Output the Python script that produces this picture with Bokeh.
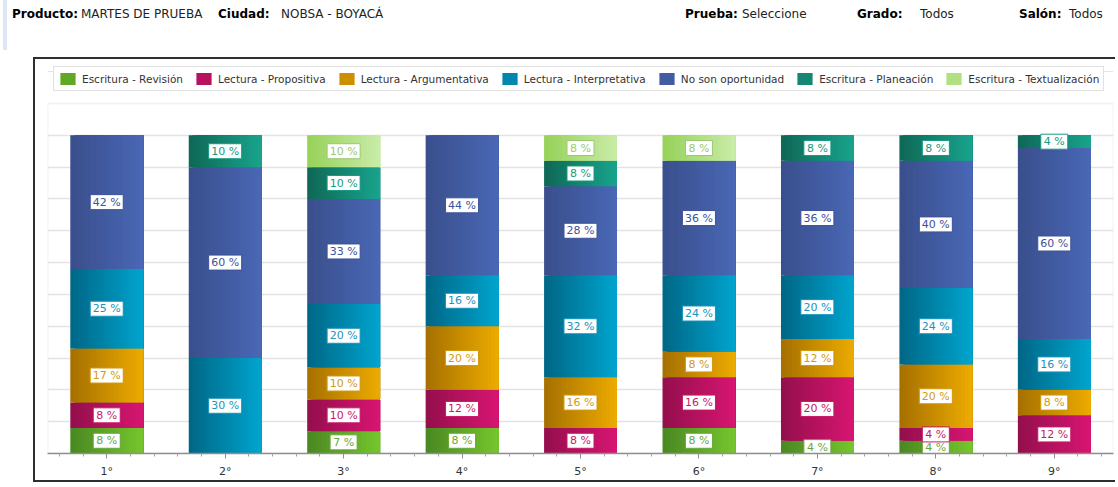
from bokeh.plotting import figure
from bokeh.models import (ColumnDataSource, Range1d, FixedTicker, Legend,
                          LegendItem, Div, Grid, BoxAnnotation)
from bokeh.core.properties import value
from bokeh.transform import dodge
from bokeh.layouts import column
from bokeh.embed import file_html
from bokeh.resources import INLINE

# ---------------- data ----------------
grades = ["1°", "2°", "3°", "4°", "5°", "6°", "7°", "8°", "9°"]
series_names = ["Escritura - Revisión", "Lectura - Propositiva", "Lectura - Argumentativa",
                "Lectura - Interpretativa", "No son oportunidad", "Escritura - Planeación",
                "Escritura - Textualización"]
escritura_revision = [8, 0, 7, 8, 0, 8, 4, 4, 0]
lectura_propositiva = [8, 0, 10, 12, 8, 16, 20, 4, 12]
lectura_argumentativa = [17, 0, 10, 20, 16, 8, 12, 20, 8]
lectura_interpretativa = [25, 30, 20, 16, 32, 24, 20, 24, 16]
no_son_oportunidad = [42, 60, 33, 44, 28, 36, 36, 40, 60]
escritura_planeacion = [0, 10, 10, 0, 8, 0, 8, 8, 4]
escritura_textualizacion = [0, 0, 10, 0, 8, 8, 0, 0, 0]
series_values = [escritura_revision, lectura_propositiva, lectura_argumentativa,
                 lectura_interpretativa, no_son_oportunidad, escritura_planeacion,
                 escritura_textualizacion]

header_fields = [("Producto:", "MARTES DE PRUEBA"), ("Ciudad:", "NOBSA - BOYACÁ"),
                 ("Prueba:", "Seleccione"), ("Grado:", "Todos"), ("Salón:", "Todos")]

# ---------------- style ----------------
# (left gradient colour, right gradient colour, label colour)
styles = [("#4b8922", "#75c42e", "#68a83a"),
          ("#950f4d", "#d61571", "#c8186a"),
          ("#a77100", "#ebaa00", "#d29a10"),
          ("#006887", "#00a3cd", "#1994bb"),
          ("#3a4f8d", "#4967b4", "#3d5299"),
          ("#0f6957", "#18a28b", "#169a82"),
          ("#97d25a", "#c8eba6", "#9cc870")]
N_STRIPS = 20
BAR_W = 0.615
FONT = "DejaVu Sans"
PLOT_TOP = 110                      # top of the light plot-area box (in %)
FRAME_H = 391                       # frame height in px (includes legend band)
AREA_H = 350                        # px between 0 % and PLOT_TOP
Y_END = PLOT_TOP * FRAME_H / AREA_H


def mix(c1, c2, t):
    a = [int(c1[i:i + 2], 16) for i in (1, 3, 5)]
    b = [int(c2[i:i + 2], 16) for i in (1, 3, 5)]
    return "#%02x%02x%02x" % tuple(round(a[k] + (b[k] - a[k]) * t) for k in range(3))


# ---------------- long table ----------------
cols = {"x": [], "bottom": [], "top": []}
for k in range(N_STRIPS):
    cols["c%d" % k] = []
first_row = []
per_series = []
cum = [0.0] * len(grades)
for si, vals in enumerate(series_values):
    first_row.append(len(cols["x"]))
    sx, sy, st, sw_ = [], [], [], []
    for gi, v in enumerate(vals):
        if v <= 0:
            continue
        b = cum[gi]
        t = b + v
        cum[gi] = t
        cols["x"].append(gi + 0.5)
        cols["bottom"].append(b)
        cols["top"].append(t)
        for k in range(N_STRIPS):
            cols["c%d" % k].append(mix(styles[si][0], styles[si][1], k / (N_STRIPS - 1)))
        lab = "%d %%" % v
        sx.append(gi + 0.5)
        sy.append((b + t) / 2)
        st.append(lab)
        sw_.append(21 + 6 * (len(lab) - 2))
    per_series.append(ColumnDataSource(dict(x=sx, y=sy, text=st, w=sw_)))
src = ColumnDataSource(cols)

# ---------------- figure ----------------
p = figure(width=1082, height=425, x_range=Range1d(0, 9), y_range=Range1d(0, Y_END),
           y_axis_location=None, toolbar_location=None, output_backend="svg",
           min_border_left=12, min_border_right=4, min_border_top=3, min_border_bottom=31,
           outline_line_color=None,
           background_fill_color="white", border_fill_color="white")
p.margin = (0, 0, 0, 33)
p.styles = {"border-left": "2px solid #2e2e2e", "border-top": "2px solid #2e2e2e",
            "border-bottom": "2px solid #2e2e2e"}
p.xgrid.visible = False
grid = Grid(dimension=1, ticker=FixedTicker(ticks=[10, 20, 30, 40, 50, 60, 70, 80, 90, 100]),
            grid_line_color="#e3e3e3", grid_line_width=1.5)
p.add_layout(grid)
# light frame of the plotting area
p.add_layout(BoxAnnotation(left=0, right=9, bottom=0, top=PLOT_TOP, fill_alpha=0,
                           line_color="#d4d4d4", line_width=2, level="underlay"))

# gradient bars: overlapping strips, each running from its left edge to the bar's right edge
sw = BAR_W / N_STRIPS
renderers = []
for k in range(N_STRIPS):
    left = -BAR_W / 2 + k * sw
    wdt = BAR_W - k * sw
    off = left + wdt / 2
    r = p.vbar(x=dodge("x", off), width=wdt, bottom="bottom", top="top", source=src,
               fill_color="c%d" % k, line_color=None)
    renderers.append(r)

mid = renderers[N_STRIPS // 2]
items = [LegendItem(label=series_names[i], renderers=[mid], index=first_row[i])
         for i in range(len(series_names))]
legend = Legend(items=items, orientation="horizontal", location=(6, 362),
                padding=4, spacing=11, glyph_width=19, glyph_height=15, label_standoff=5,
                margin=0, border_line_color="#c4c4c4", border_line_width=1,
                background_fill_color="white", background_fill_alpha=1,
                label_text_font=FONT, label_text_font_size="10.5px",
                label_text_color="#333333", label_height=15)
p.add_layout(legend)

# value labels: white boxes with coloured border and text
for si, s in enumerate(per_series):
    tc = styles[si][2]
    p.rect(x="x", y="y", width="w", height=15, width_units="screen", height_units="screen",
           source=s, fill_color="white", line_color=tc, line_width=1)
    p.text(x="x", y="y", text="text", source=s, text_align="center", text_baseline="middle",
           text_font=value(FONT), text_font_size="11px", text_color=tc)

major = [i + 0.5 for i in range(len(grades))]
minor = [round(0.1 + 0.2 * j, 2) for j in range(45)]
minor = [m for m in minor if all(abs(m - t) > 1e-6 for t in major)]
p.xaxis.ticker = FixedTicker(ticks=major, minor_ticks=minor)
p.xaxis.major_label_overrides = {m: g for m, g in zip(major, grades)}
p.xaxis.axis_line_color = "#8e8e8e"
p.xaxis.axis_line_width = 1.5
p.xaxis.major_tick_line_color = "#8e8e8e"
p.xaxis.minor_tick_line_color = "#a0a0a0"
p.xaxis.major_tick_in = 0
p.xaxis.major_tick_out = 5
p.xaxis.minor_tick_in = 0
p.xaxis.minor_tick_out = 3
p.xaxis.major_label_standoff = 6
p.xaxis.major_label_text_font = FONT
p.xaxis.major_label_text_font_size = "11px"
p.xaxis.major_label_text_color = "#333333"

# ---------------- header ----------------
positions = [(12, 81), (218, 281), (685, 742), (857, 920), (1019, 1069)]
spans = ['<div style="position:absolute;left:3px;top:0px;width:4px;height:50px;'
         'background:#dde5f6"></div>']
for (lab, val), (lx, vx) in zip(header_fields, positions):
    spans.append('<span style="position:absolute;left:%dpx;top:7px;font-weight:bold;'
                 'color:#000">%s</span>' % (lx, lab))
    spans.append('<span style="position:absolute;left:%dpx;top:7px;color:#222">%s</span>'
                 % (vx, val))
html = ('<div style="position:relative;width:1110px;height:57px;font-family:\'DejaVu Sans\';'
        'font-size:12px;line-height:14px;white-space:nowrap">' + "".join(spans) + '</div>')
header = Div(text=html, width=1110, height=57, margin=(0, 0, 0, 0))

layout = column(header, p, spacing=0)
open("out.html", "w").write(file_html(layout, INLINE))
